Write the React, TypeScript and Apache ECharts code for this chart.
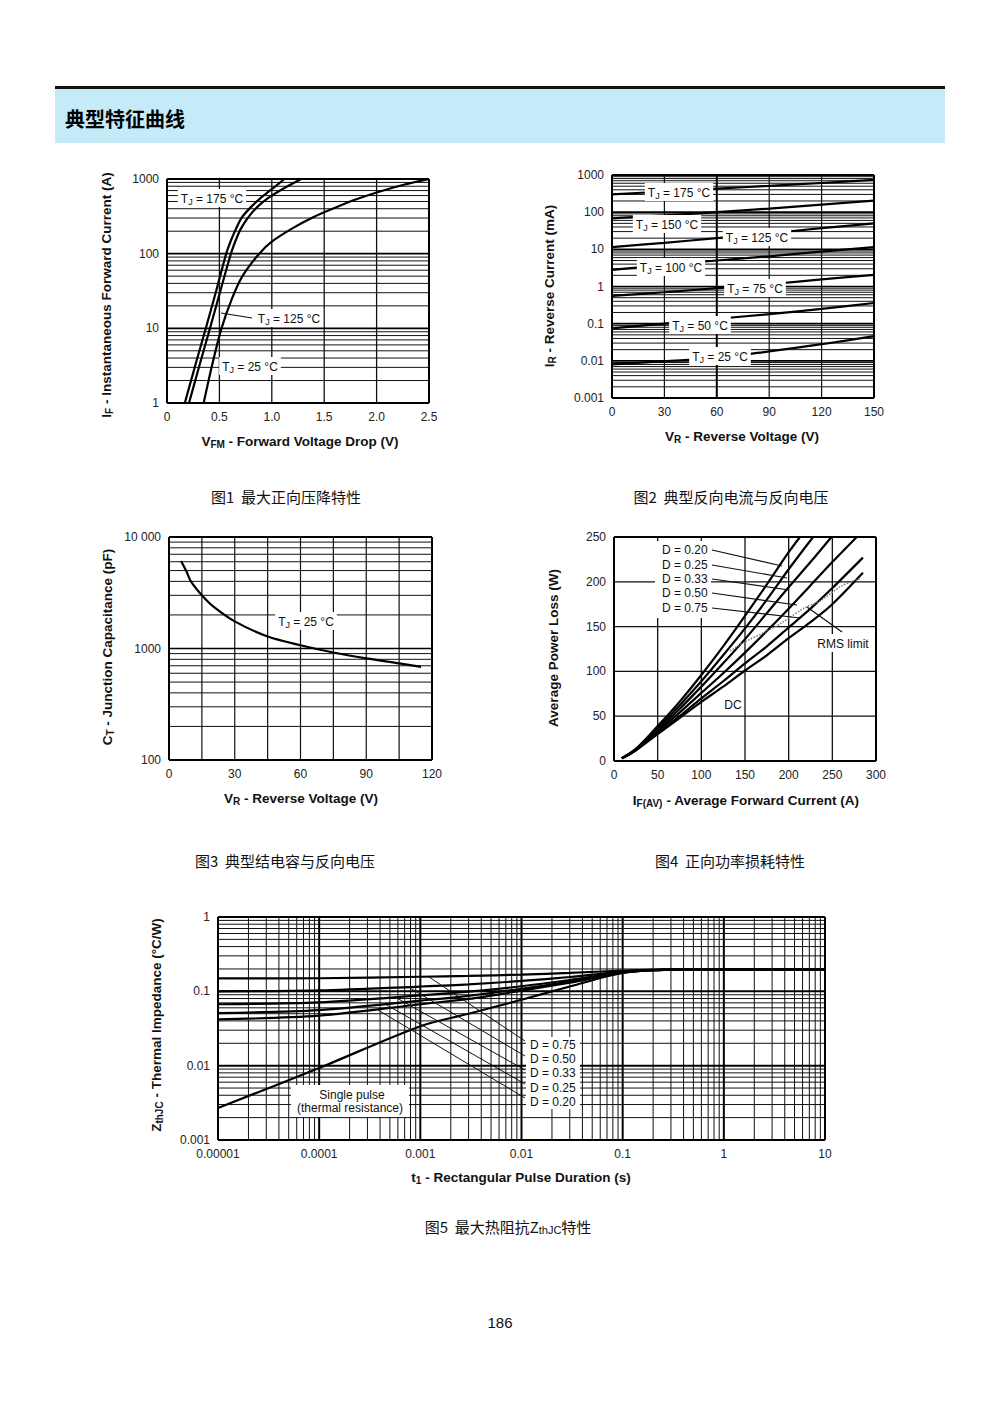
import React, { useEffect, useRef } from "react";
import * as echarts from "echarts";

// ================= DATA =================
// Fig 1: forward characteristics (V, A)
const f1V175 = [0.17, 0.27, 0.37, 0.47, 0.565, 0.61, 0.655, 0.71, 0.8, 0.89, 1.0, 1.12];
const f1I175 = [1, 3.2, 10, 32, 100, 150, 210, 300, 420, 550, 730, 1000];
const f1V125 = [0.21, 0.31, 0.41, 0.51, 0.61, 0.655, 0.7, 0.77, 0.86, 0.96, 1.1, 1.28];
const f1I125 = [1, 3.2, 10, 32, 100, 150, 210, 300, 420, 550, 730, 1000];
const f1V25 = [0.35, 0.43, 0.52, 0.62, 0.72, 0.88, 1.0, 1.2, 1.4, 1.6, 1.8, 2.0, 2.25, 2.5];
const f1I25 = [1, 3.2, 10, 25, 50, 100, 145, 220, 310, 410, 530, 660, 830, 1000];
const f1XLabels = ["0", "0.5", "1.0", "1.5", "2.0", "2.5"];
const f1YLabels = ["1", "10", "100", "1000"];

// Fig 2: reverse current (V, mA)
const f2V = [0, 30, 60, 90, 120, 150];
const f2I175 = [300, 360, 430, 510, 610, 740];
const f2I150 = [68, 82, 100, 125, 160, 205];
const f2I125 = [11.5, 15, 20, 27, 37, 50];
const f2I100 = [2.8, 3.8, 5.0, 6.5, 8.7, 11.5];
const f2I75 = [0.56, 0.7, 0.9, 1.15, 1.55, 2.05];
const f2I50 = [0.075, 0.1, 0.135, 0.18, 0.25, 0.36];
const f2I25 = [0.008, 0.0098, 0.012, 0.018, 0.028, 0.046];
const f2YLabels = ["0.001", "0.01", "0.1", "1", "10", "100", "1000"];

// Fig 3: junction capacitance (V, pF)
const f3V = [5.5, 8, 10, 15, 20, 30, 45, 60, 75, 90, 105, 115];
const f3C = [6100, 4900, 4000, 3000, 2400, 1750, 1280, 1070, 920, 815, 735, 685];
const f3YLabels = ["100", "1000", "10 000"];

// Fig 4: average power loss (A, W)
const f4IDC = [9, 25, 50, 75, 100, 125, 150, 175, 200, 225, 250, 285];
const f4PDC = [3, 12, 30, 48, 66, 83, 101, 118, 137, 155, 175, 210];
const f4I075 = [9, 25, 50, 75, 100, 125, 150, 175, 200, 225, 250, 285];
const f4P075 = [3, 12, 31, 50, 70, 89, 109, 128, 149, 170, 193, 227];
const f4I050 = [9, 25, 50, 75, 100, 125, 150, 175, 200, 225, 250, 278];
const f4P050 = [3, 12.5, 33, 54, 76, 98, 121, 145, 170, 196, 222, 250];
const f4I033 = [9, 25, 50, 75, 100, 125, 150, 175, 200, 225, 249];
const f4P033 = [3, 13, 35, 58, 83, 109, 136, 165, 194, 222, 250];
const f4I025 = [9, 25, 50, 75, 100, 125, 150, 175, 200, 228];
const f4P025 = [3, 13, 37, 62, 89, 118, 148, 180, 214, 250];
const f4I020 = [9, 25, 50, 75, 100, 125, 150, 175, 200, 213];
const f4P020 = [3, 13.5, 39, 66, 96, 128, 162, 197, 233, 250];
const f4IRms = [133, 150, 175, 190, 220, 235, 260, 283];
const f4PRms = [123, 133, 145, 153, 172, 178, 195, 204];

// Fig 5: transient thermal impedance (s, °C/W)
const f5T = [1e-5, 1e-4, 1e-3, 3e-3, 1e-2, 3e-2, 0.1, 0.2, 0.4, 1, 10];
const f5Single = [0.0027, 0.0093, 0.034, 0.05, 0.077, 0.116, 0.178, 0.192, 0.196, 0.197, 0.197];
const f5D075 = [0.149, 0.15, 0.157, 0.161, 0.168, 0.177, 0.19, 0.195, 0.197, 0.197, 0.197];
const f5D050 = [0.1, 0.103, 0.116, 0.124, 0.138, 0.156, 0.184, 0.194, 0.197, 0.197, 0.197];
const f5D033 = [0.067, 0.071, 0.088, 0.099, 0.117, 0.142, 0.18, 0.193, 0.196, 0.197, 0.197];
const f5D025 = [0.051, 0.056, 0.075, 0.087, 0.108, 0.135, 0.178, 0.192, 0.196, 0.197, 0.197];
const f5D020 = [0.042, 0.047, 0.067, 0.079, 0.102, 0.131, 0.177, 0.192, 0.196, 0.197, 0.197];
const f5XLabels = ["0.00001", "0.0001", "0.001", "0.01", "0.1", "1", "10"];
const f5YLabels = ["0.001", "0.01", "0.1", "1"];

// ================= HELPERS =================
const F = "'Liberation Sans', Arial, Helvetica, sans-serif";
const CJK = "'Noto Sans CJK SC', 'Noto Sans CJK JP', sans-serif";
const TITLE = 13.5;
const ANN = 12;

const zip = (xs: number[], ys: number[]) => xs.map((x, i) => [x, ys[i]]);
const decades = (a: number, b: number) => {
  const r: number[] = [];
  for (let e = a; e <= b; e++) r.push(Number(`1e${e}`));
  return r;
};
const minors = (a: number, b: number) => {
  const r: number[] = [];
  for (let e = a; e < b; e++) for (const m of [2, 3, 4, 5, 6, 7, 8, 9]) r.push(Number(`${m}e${e}`));
  return r;
};

type GL = { v: number; w: number };
function gridLines(xMin: number, xMax: number, yMin: number, yMax: number, vs: GL[], hs: GL[]) {
  const out: number[][] = [];
  vs.forEach((g) => out.push([g.v, yMin, g.v, yMax, g.w]));
  hs.forEach((g) => out.push([xMin, g.v, xMax, g.v, g.w]));
  out.push([xMin, yMin, xMin, yMax, 2]);
  out.push([xMax, yMin, xMax, yMax, 2]);
  out.push([xMin, yMin, xMax, yMin, 2]);
  out.push([xMin, yMax, xMax, yMax, 2]);
  return out;
}
const W = (arr: number[], w: number): GL[] => arr.map((v) => ({ v, w }));

function gridSeries(idx: number, data: number[][]) {
  return {
    type: "custom",
    xAxisIndex: idx,
    yAxisIndex: idx,
    silent: true,
    clip: false,
    z: 1,
    data,
    renderItem: (_p: any, api: any) => {
      const a = api.coord([api.value(0), api.value(1)]);
      const b = api.coord([api.value(2), api.value(3)]);
      const w = api.value(4);
      return {
        type: "line",
        shape: { x1: a[0], y1: a[1], x2: b[0], y2: b[1] },
        style: { stroke: w >= 1.5 ? "#000" : "#111", lineWidth: w },
      };
    },
  };
}

function curve(idx: number, xs: number[], ys: number[], extra: any = {}) {
  return {
    type: "line",
    xAxisIndex: idx,
    yAxisIndex: idx,
    data: zip(xs, ys),
    symbol: "none",
    showSymbol: false,
    smooth: 0.3,
    silent: true,
    z: 3,
    lineStyle: { color: "#000", width: 2.2 },
    ...extra,
  };
}

const lbl = { fontSize: 12, fontFamily: F, color: "#222", margin: 8, showMinLabel: true, showMaxLabel: true };
const lg = (v: number) => Math.round(Math.log10(v));
function valAxis(idx: number, min: number, max: number, interval: number, fmt?: (v: number) => string) {
  return {
    gridIndex: idx, type: "value", min, max, interval,
    axisLine: { show: false }, axisTick: { show: false }, splitLine: { show: false },
    axisLabel: { ...lbl, formatter: fmt },
  };
}
function logAxis(idx: number, min: number, max: number, fmt: (v: number) => string) {
  return {
    gridIndex: idx, type: "log", logBase: 10, min, max,
    axisLine: { show: false }, axisTick: { show: false }, splitLine: { show: false }, minorSplitLine: { show: false },
    axisLabel: { ...lbl, formatter: fmt },
  };
}

const subRich = (size: number, bold: boolean, family: string) => ({
  s: { fontSize: size, lineHeight: 9, verticalAlign: "bottom", fontFamily: family, fontWeight: bold ? "bold" : "normal", fill: "#111" },
});

function text(x: number, y: number, t: string, o: any = {}) {
  const size = o.size || ANN;
  const bold = !!o.bold;
  return {
    type: "text", x, y, z: 100, rotation: o.rot || 0, silent: true,
    style: {
      text: t, align: o.align || "center", verticalAlign: "middle",
      fontSize: size, fontFamily: o.family || F, fontWeight: bold ? "bold" : "normal",
      fill: o.fill || "#111", lineHeight: size + 3,
      backgroundColor: o.bg, padding: o.bg ? [2, 3, 1, 3] : 0,
      rich: subRich(Math.round(size * 0.72), bold, F),
    },
  };
}
function seg(x1: number, y1: number, x2: number, y2: number, w = 1.2) {
  return { type: "line", z: 100, silent: true, shape: { x1, y1, x2, y2 }, style: { stroke: "#111", lineWidth: w } };
}
function box(x: number, y: number, w: number, h: number, fill = "#fff") {
  return { type: "rect", z: 99, silent: true, shape: { x, y, width: w, height: h }, style: { fill } };
}
const tj = (t: string) => `T{s|J} = ${t} °C`;

// ================= OPTION =================
function buildOption() {
  const g1 = gridLines(0, 2.5, 1, 1000, W([0.5, 1, 1.5, 2], 1.3), [...W(minors(0, 3), 1), ...W([10, 100], 1.6)]);
  const g2 = gridLines(0, 150, 0.001, 1000,
    [{ v: 30, w: 1.2 }, { v: 60, w: 2 }, { v: 90, w: 1.2 }, { v: 120, w: 1.2 }],
    [...W(minors(-3, 3), 1), ...W(decades(-2, 2), 1.6)]);
  const g3 = gridLines(0, 120, 100, 10000, W([15, 30, 45, 60, 75, 90, 105], 1.2), [...W(minors(2, 4), 1), ...W([1000], 1.6)]);
  const g4 = gridLines(0, 300, 0, 250, W([50, 100, 150, 200, 250], 1.3), W([50, 100, 150, 200], 1.3));
  const g5 = gridLines(1e-5, 10, 0.001, 1,
    [...W(minors(-5, 1), 1), ...W(decades(-4, 0), 2)],
    [...W(minors(-3, 0), 1), ...W(decades(-2, -1), 2)]);

  const graphic: any[] = [
    // header
    box(55, 86, 890, 3, "#111"),
    box(55, 89, 890, 54, "#C5EBF8"),
    text(65, 118, "典型特征曲线", { size: 20, bold: true, family: CJK, align: "left", fill: "#000" }),

    // axis titles
    text(106, 295, "I{s|F} - Instantaneous Forward Current (A)", { bold: true, size: TITLE, rot: Math.PI / 2 }),
    text(300, 441, "V{s|FM} - Forward Voltage Drop (V)", { bold: true, size: TITLE }),
    text(549, 286, "I{s|R} - Reverse Current (mA)", { bold: true, size: TITLE, rot: Math.PI / 2 }),
    text(742, 436, "V{s|R} - Reverse Voltage (V)", { bold: true, size: TITLE }),
    text(107, 647, "C{s|T} - Junction Capacitance (pF)", { bold: true, size: TITLE, rot: Math.PI / 2 }),
    text(301, 798, "V{s|R} - Reverse Voltage (V)", { bold: true, size: TITLE }),
    text(553, 648, "Average Power Loss (W)", { bold: true, size: TITLE, rot: Math.PI / 2 }),
    text(746, 800, "I{s|F(AV)} - Average Forward Current (A)", { bold: true, size: TITLE }),
    text(156, 1025, "Z{s|thJC} - Thermal Impedance (°C/W)", { bold: true, size: TITLE, rot: Math.PI / 2 }),
    text(521, 1177, "t{s|1} - Rectangular Pulse Duration (s)", { bold: true, size: TITLE }),

    // captions
    text(286, 496, "图1  最大正向压降特性", { size: 15, family: CJK }),
    text(731, 496, "图2  典型反向电流与反向电压", { size: 15, family: CJK }),
    text(285, 860, "图3  典型结电容与反向电压", { size: 15, family: CJK }),
    text(730, 860, "图4  正向功率损耗特性", { size: 15, family: CJK }),
    text(508, 1226, "图5  最大热阻抗Z{s|thJC}特性", { size: 15, family: CJK }),
    text(500, 1322, "186", { size: 15, family: F }),

    // fig1 annotations
    text(212, 198, tj("175"), { bg: "#fff" }),
    seg(252, 318, 221, 313),
    text(289, 318, tj("125"), { bg: "#fff" }),
    text(250, 366, tj("25"), { bg: "#fff" }),

    // fig2 annotations
    text(679, 192, tj("175"), { bg: "#fff" }),
    text(667, 224, tj("150"), { bg: "#fff" }),
    text(757, 237, tj("125"), { bg: "#fff" }),
    text(671, 267, tj("100"), { bg: "#fff" }),
    text(755, 288, tj("75"), { bg: "#fff" }),
    text(700, 325, tj("50"), { bg: "#fff" }),
    text(720, 356, tj("25"), { bg: "#fff" }),

    // fig3 annotation
    text(306, 621, tj("25"), { bg: "#fff" }),

    // fig4 annotations
    box(655, 541, 56, 77),
    text(662, 550, "D = 0.20", { align: "left" }),
    text(662, 565, "D = 0.25", { align: "left" }),
    text(662, 579, "D = 0.33", { align: "left" }),
    text(662, 593, "D = 0.50", { align: "left" }),
    text(662, 608, "D = 0.75", { align: "left" }),
    seg(712, 550, 782, 566),
    seg(712, 565, 787, 578),
    seg(712, 579, 789, 590),
    seg(712, 593, 797, 605),
    seg(712, 608, 800, 618),
    seg(807, 607, 842, 632),
    text(843, 643, "RMS limit", { bg: "#fff" }),
    text(733, 705, "DC", {}),

    // fig5 annotations
    seg(429, 977, 525, 1041, 1),
    seg(410, 988, 525, 1056, 1),
    seg(395, 997, 525, 1070, 1),
    seg(385, 1004, 525, 1084, 1),
    seg(378, 1010, 525, 1098, 1),
    box(526, 1037, 54, 72),
    text(530, 1045, "D = 0.75", { align: "left" }),
    text(530, 1059, "D = 0.50", { align: "left" }),
    text(530, 1073, "D = 0.33", { align: "left" }),
    text(530, 1088, "D = 0.25", { align: "left" }),
    text(530, 1102, "D = 0.20", { align: "left" }),
    box(291, 1085, 118, 32),
    text(352, 1095, "Single pulse", {}),
    text(350, 1108, "(thermal resistance)", {}),
  ];

  return {
    animation: false,
    backgroundColor: "#fff",
    grid: [
      { left: 167, top: 179, width: 262, height: 224 },
      { left: 612, top: 175, width: 262, height: 223 },
      { left: 169, top: 537, width: 263, height: 223 },
      { left: 614, top: 537, width: 262, height: 224 },
      { left: 218, top: 917, width: 607, height: 223 },
    ],
    xAxis: [
      valAxis(0, 0, 2.5, 0.5, (v) => f1XLabels[Math.round(v / 0.5)]),
      valAxis(1, 0, 150, 30),
      valAxis(2, 0, 120, 30),
      valAxis(3, 0, 300, 50),
      logAxis(4, 1e-5, 10, (v) => f5XLabels[lg(v) + 5]),
    ],
    yAxis: [
      logAxis(0, 1, 1000, (v) => f1YLabels[lg(v)]),
      logAxis(1, 0.001, 1000, (v) => f2YLabels[lg(v) + 3]),
      logAxis(2, 100, 10000, (v) => f3YLabels[lg(v) - 2]),
      valAxis(3, 0, 250, 50),
      logAxis(4, 0.001, 1, (v) => f5YLabels[lg(v) + 3]),
    ],
    series: [
      gridSeries(0, g1), gridSeries(1, g2), gridSeries(2, g3), gridSeries(3, g4), gridSeries(4, g5),
      curve(0, f1V175, f1I175), curve(0, f1V125, f1I125), curve(0, f1V25, f1I25),
      curve(1, f2V, f2I175), curve(1, f2V, f2I150), curve(1, f2V, f2I125), curve(1, f2V, f2I100),
      curve(1, f2V, f2I75), curve(1, f2V, f2I50), curve(1, f2V, f2I25),
      curve(2, f3V, f3C),
      curve(3, f4IDC, f4PDC), curve(3, f4I075, f4P075), curve(3, f4I050, f4P050),
      curve(3, f4I033, f4P033), curve(3, f4I025, f4P025), curve(3, f4I020, f4P020),
      curve(3, f4IRms, f4PRms, { lineStyle: { color: "#777", width: 1.5, type: "dotted" }, z: 4 }),
      curve(4, f5T, f5Single), curve(4, f5T, f5D075), curve(4, f5T, f5D050),
      curve(4, f5T, f5D033), curve(4, f5T, f5D025), curve(4, f5T, f5D020),
    ],
    graphic,
  };
}

export default function App() {
  const ref = useRef<HTMLDivElement>(null);
  useEffect(() => {
    const chart = echarts.init(ref.current as HTMLDivElement, null, { renderer: "svg" });
    chart.setOption(buildOption() as any);
    return () => chart.dispose();
  }, []);
  return (
    <div
      ref={ref}
      style={{ position: "absolute", left: 0, top: 0, width: 1000, height: 1414, background: "#fff" }}
    />
  );
}
